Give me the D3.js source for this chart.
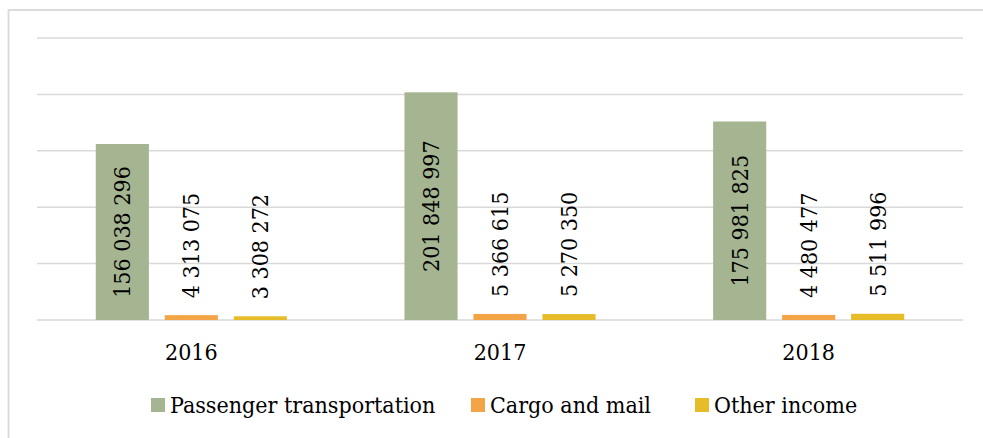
<!DOCTYPE html>
<html>
<head>
<meta charset="utf-8">
<script src="https://cdn.jsdelivr.net/npm/d3@7"></script>
<style>
  body { margin: 0; background: #fff; }
</style>
</head>
<body>
<div id="chart"></div>
<script>
// chart data
var years = ["2016", "2017", "2018"];
var seriesNames = ["Passenger transportation", "Cargo and mail", "Other income"];
var passenger = [156038296, 201848997, 175981825];
var cargo = [4313075, 5366615, 4480477];
var other = [3308272, 5270350, 5511996];
var colors = ["#a5b592", "#f3a447", "#e7bc29"];
var yTicks = [0, 50e6, 100e6, 150e6, 200e6, 250e6];

var width = 983, height = 438;
var plotLeft = 37, plotRight = 963, plotTop = 38, plotBottom = 320;
var serif = "DejaVu Serif Condensed, DejaVu Serif";
var fontSize = 23;

var svg = d3.select("#chart").append("svg")
    .attr("width", width)
    .attr("height", height)
    .style("display", "block");

// outer frame (only top and left visible)
svg.append("rect")
    .attr("x", 8.5).attr("y", 10)
    .attr("width", 1100).attr("height", 600)
    .attr("fill", "none")
    .attr("stroke", "#d9d9d9")
    .attr("stroke-width", 1.8);

var y = d3.scaleLinear().domain([0, 250e6]).range([plotBottom, plotTop]);

var x0 = d3.scaleBand().domain(years).range([plotLeft, plotRight]);
var x1 = d3.scaleBand().domain(seriesNames)
    .range([0, x0.bandwidth()])
    .paddingInner(0.23)
    .paddingOuter(0.852);

// gridlines
svg.append("g")
  .selectAll("line")
  .data(yTicks)
  .join("line")
    .attr("x1", plotLeft).attr("x2", plotRight)
    .attr("y1", d => y(d)).attr("y2", d => y(d))
    .attr("stroke", "#d9d9d9")
    .attr("stroke-width", 1.5);

var rows = years.map((yr, i) => ({
  year: yr,
  values: [passenger[i], cargo[i], other[i]].map((v, j) => ({ name: seriesNames[j], value: v, idx: j }))
}));

var fmt = v => d3.format(",")(v).replace(/,/g, " ");

var groups = svg.append("g")
  .selectAll("g")
  .data(rows)
  .join("g")
    .attr("transform", d => `translate(${x0(d.year)},0)`);

groups.selectAll("rect")
  .data(d => d.values)
  .join("rect")
    .attr("x", d => x1(d.name))
    .attr("y", d => y(d.value))
    .attr("width", x1.bandwidth())
    .attr("height", d => plotBottom - y(d.value))
    .attr("fill", d => colors[d.idx]);

// data labels, rotated
groups.selectAll("text")
  .data(d => d.values)
  .join("text")
    .attr("transform", d => {
      var cx = x1(d.name) + x1.bandwidth() / 2;
      var big = d.value > 50e6;
      var cy = big ? (y(d.value) + plotBottom) / 2 : y(d.value) - 17;
      return `translate(${cx},${cy}) rotate(-90)`;
    })
    .attr("text-anchor", d => d.value > 50e6 ? "middle" : "start")
    .attr("dy", "0.35em")
    .style("font-family", serif)
    .style("font-stretch", "condensed")
    .attr("font-size", fontSize)
    .attr("fill", "#000")
    .text(d => fmt(d.value));

// category axis labels
svg.append("g")
  .selectAll("text")
  .data(years)
  .join("text")
    .attr("x", d => x0(d) + x0.bandwidth() / 2)
    .attr("y", 360)
    .attr("text-anchor", "middle")
    .style("font-family", serif)
    .style("font-stretch", "condensed")
    .attr("font-size", fontSize)
    .attr("fill", "#000")
    .text(d => d);

// legend
var legendX = [151, 471, 695];
var legend = svg.append("g")
  .selectAll("g")
  .data(seriesNames)
  .join("g")
    .attr("transform", (d, i) => `translate(${legendX[i]},398)`);

legend.append("rect")
    .attr("width", 14).attr("height", 14)
    .attr("fill", (d, i) => colors[i]);

legend.append("text")
    .attr("x", 19)
    .attr("y", 15)
    .style("font-family", serif)
    .style("font-stretch", "condensed")
    .attr("font-size", fontSize)
    .attr("fill", "#000")
    .text(d => d);
</script>
</body>
</html>
